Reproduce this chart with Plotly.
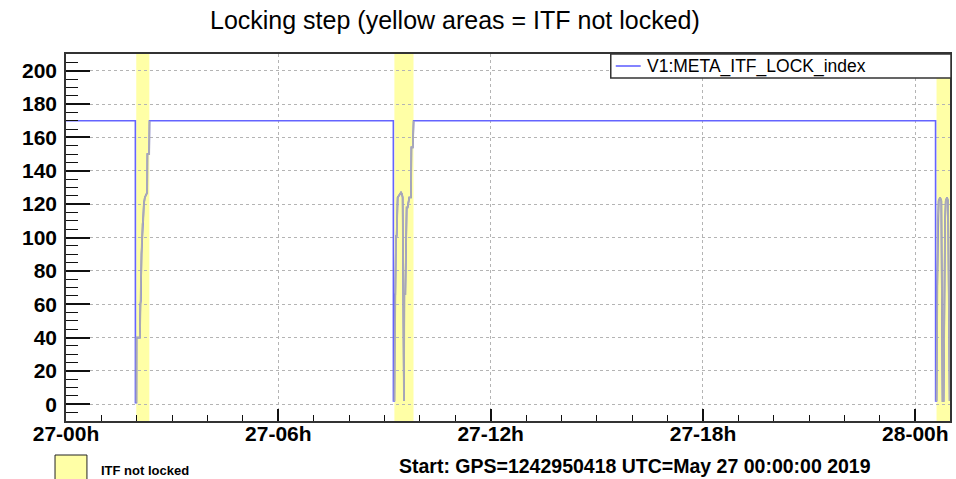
import plotly.graph_objects as go

# ---- data (time in hours since 2019-05-27 00:00 UTC) ----
time_h = [0.0, 1.960, 1.962, 1.990, 1.993, 2.087, 2.100, 2.115, 2.134, 2.162, 2.181,
          2.200, 2.228, 2.275, 2.294, 2.300, 2.350, 2.360,
          9.250, 9.252, 9.280, 9.290, 9.306, 9.325, 9.344, 9.372, 9.420, 9.466, 9.494,
          9.513, 9.530, 9.541, 9.550, 9.560, 9.588, 9.626, 9.654, 9.700, 9.748, 9.760,
          9.800, 9.823,
          24.572, 24.574, 24.600, 24.615, 24.635, 24.660, 24.700, 24.735, 24.750, 24.770,
          24.800, 24.815, 24.840, 24.860, 24.895, 24.925, 24.940, 24.955, 24.970, 24.990]
lock_index = [170, 170, 1, 1, 40, 40, 60, 62, 90, 108, 110,
              120, 124, 126, 127, 150, 150, 170,
              170, 2, 2, 66, 66, 101, 101, 124, 126, 127, 126,
              124, 66, 2, 2, 66, 66, 118, 118, 124, 124, 154,
              154, 170,
              170, 2, 2, 66, 110, 122, 124, 122, 66, 2,
              2, 66, 110, 122, 124, 122, 66, 2, 2, 50]

unlock_start = [1.985, 9.280, 24.600]
unlock_end = [2.355, 9.820, 25.000]

x_tick_vals = [0, 6, 12, 18, 24]
x_tick_text = ["27-00h", "27-06h", "27-12h", "27-18h", "28-00h"]
y_tick_vals = [0, 20, 40, 60, 80, 100, 120, 140, 160, 180, 200]

x_range = [0, 24.98]
y_range = [-10, 210]

series_name = "V1:META_ITF_LOCK_index"
title_text = "Locking step (yellow areas = ITF not locked)"
start_text = "Start: GPS=1242950418 UTC=May 27 00:00:00 2019"
unlock_label = "ITF not locked"

# ---- split points inside unlocked periods for grey rendering ----
def inside(t):
    return any(s <= t <= e for s, e in zip(unlock_start, unlock_end))

grey_x, grey_y = [], []
prev_in = False
for t, v in zip(time_h, lock_index):
    cur_in = inside(t)
    if cur_in:
        grey_x.append(t); grey_y.append(v)
    elif prev_in:
        grey_x.append(t); grey_y.append(v)
        grey_x.append(None); grey_y.append(None)
    prev_in = cur_in

FONT = "Liberation Sans, Arial, Helvetica, sans-serif"
W, H = 956, 479
ML, MR, MT, MB = 66, 4, 54, 58
PW, PH = W - ML - MR, H - MT - MB

def px_x(p):
    return (p - ML) / PW

def px_y(p):
    return (H - MB - p) / PH

fig = go.Figure()
fig.add_trace(go.Scatter(x=time_h, y=lock_index, mode="lines",
                         line=dict(color="#6464ff", width=1.6),
                         name=series_name, showlegend=False, hoverinfo="skip"))
fig.add_trace(go.Scatter(x=grey_x, y=grey_y, mode="lines",
                         line=dict(color="#a9a9b4", width=1.8),
                         showlegend=False, hoverinfo="skip", connectgaps=False))

YELLOW = "#ffffa6"
shapes = []
for s, e in zip(unlock_start, unlock_end):
    shapes.append(dict(type="rect", xref="x", yref="paper", x0=s, x1=e, y0=0, y1=1,
                       fillcolor=YELLOW, line=dict(width=0), layer="below"))

# legend box (top right)
shapes.append(dict(type="rect", xref="paper", yref="paper",
                   x0=px_x(612), x1=px_x(953), y0=px_y(78), y1=px_y(54),
                   fillcolor="white", line=dict(color="#333333", width=1.5), layer="above"))
shapes.append(dict(type="line", xref="paper", yref="paper",
                   x0=px_x(617), x1=px_x(642), y0=px_y(66), y1=px_y(66),
                   line=dict(color="#6464ff", width=1.6), layer="above"))
# bottom-left legend box
shapes.append(dict(type="rect", xref="paper", yref="paper",
                   x0=px_x(55), x1=px_x(87), y0=px_y(481), y1=px_y(455),
                   fillcolor=YELLOW, line=dict(color="#222222", width=1), layer="above"))

annotations = [
    dict(text=title_text, xref="paper", yref="paper", x=px_x(456), y=px_y(20),
         xanchor="center", yanchor="middle", showarrow=False,
         font=dict(family=FONT, size=25, color="black")),
    dict(text=series_name, xref="paper", yref="paper", x=px_x(646), y=px_y(66),
         xanchor="left", yanchor="middle", showarrow=False,
         font=dict(family=FONT, size=17.5, color="black")),
    dict(text="<b>" + unlock_label + "</b>", xref="paper", yref="paper", x=px_x(99), y=px_y(470),
         xanchor="left", yanchor="middle", showarrow=False,
         font=dict(family=FONT, size=13, color="black")),
    dict(text="<b>" + start_text + "</b>", xref="paper", yref="paper", x=px_x(636), y=px_y(466),
         xanchor="center", yanchor="middle", showarrow=False,
         font=dict(family=FONT, size=19.5, color="black")),
]

fig.update_layout(
    width=W, height=H,
    margin=dict(l=ML, r=MR, t=MT, b=MB, pad=0),
    paper_bgcolor="white", plot_bgcolor="white",
    shapes=shapes, annotations=annotations, showlegend=False,
)
fig.update_xaxes(
    range=x_range, tickmode="array", tickvals=x_tick_vals, ticktext=x_tick_text,
    ticks="inside", ticklen=12, tickwidth=1.5, tickcolor="#111111",
    minor=dict(ticks="inside", ticklen=6, tickwidth=1, tickcolor="#111111", dtick=1, tick0=0, showgrid=False),
    showline=True, linecolor="#333333", linewidth=1.5, mirror=True,
    showgrid=True, gridcolor="#b4b4b4", griddash="dot", gridwidth=1,
    zeroline=False,
    tickfont=dict(family=FONT, size=21, color="black", weight="bold"),
    ticklabelstandoff=-7,
)
fig.update_yaxes(
    range=y_range, tickmode="array", tickvals=y_tick_vals,
    ticks="inside", ticklen=24, tickwidth=1.5, tickcolor="#111111",
    minor=dict(ticks="inside", ticklen=12, tickwidth=1, tickcolor="#111111", dtick=5, tick0=0, showgrid=False),
    showline=True, linecolor="#333333", linewidth=1.5, mirror=True,
    showgrid=True, gridcolor="#b4b4b4", griddash="dot", gridwidth=1,
    zeroline=False,
    tickfont=dict(family=FONT, size=21, color="black", weight="bold"),
    ticklabelstandoff=3,
)

fig.write_html("out.html")
